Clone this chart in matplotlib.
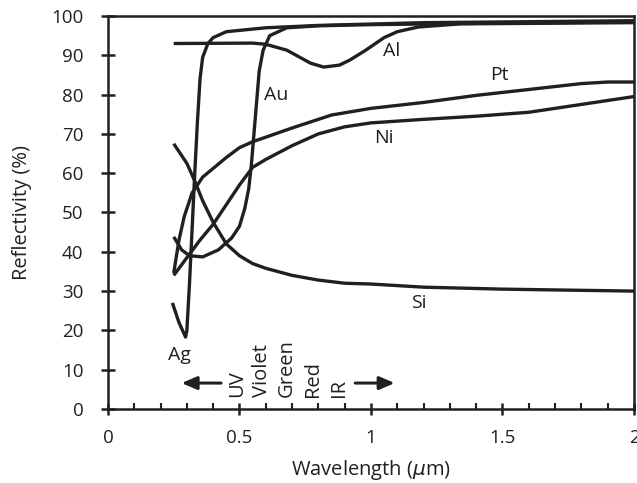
import matplotlib
matplotlib.use("Agg")
import matplotlib.pyplot as plt
from matplotlib.ticker import MultipleLocator

plt.rcParams['font.family'] = ['Open Sans', 'DejaVu Sans']

ag_x = [0.245, 0.27, 0.295, 0.30, 0.31, 0.32, 0.33, 0.34, 0.35, 0.36, 0.38, 0.40, 0.45, 0.6, 0.8, 1.2, 2.0]
ag_y = [27, 22, 18.3, 20, 32, 46, 60, 73, 84, 89.5, 93, 94.5, 96, 97, 97.6, 98.3, 98.8]

au_x = [0.25, 0.28, 0.31, 0.36, 0.42, 0.47, 0.50, 0.52, 0.535, 0.545, 0.555, 0.565, 0.575, 0.59, 0.615, 0.68, 0.8, 1.0, 1.5, 2.0]
au_y = [43.8, 40.5, 39, 38.7, 40.5, 43.5, 46.5, 51, 56, 62, 70, 78, 86, 91.3, 95, 97, 97.5, 97.8, 98.2, 98.5]

al_x = [0.25, 0.55, 0.60, 0.68, 0.77, 0.82, 0.88, 0.92, 0.98, 1.05, 1.10, 1.18, 1.34, 2.0]
al_y = [93, 93.1, 92.8, 91.3, 88, 87, 87.5, 88.8, 91.3, 94.5, 96, 97.2, 98, 98.3]

pt_x = [0.25, 0.27, 0.29, 0.32, 0.36, 0.45, 0.50, 0.55, 0.70, 0.85, 1.0, 1.2, 1.4, 1.6, 1.8, 1.9, 2.0]
pt_y = [34.6, 43, 49, 55, 59, 64, 66.5, 68, 71.5, 74.8, 76.5, 78, 79.8, 81.3, 82.8, 83.2, 83.2]

ni_x = [0.25, 0.30, 0.35, 0.40, 0.45, 0.50, 0.55, 0.60, 0.70, 0.80, 0.90, 1.0, 1.2, 1.4, 1.6, 1.8, 2.0]
ni_y = [34, 38.5, 43, 47, 52, 57, 61.5, 63.5, 67, 70, 71.8, 72.8, 73.7, 74.5, 75.5, 77.5, 79.5]

si_x = [0.25, 0.30, 0.33, 0.36, 0.40, 0.45, 0.50, 0.55, 0.60, 0.70, 0.80, 0.90, 1.0, 1.2, 1.5, 2.0]
si_y = [67.5, 62.5, 58, 53, 47.5, 42, 39, 37, 35.8, 34, 32.8, 32, 31.8, 31, 30.5, 30]

labels = ["Al", "Au", "Pt", "Ni", "Si", "Ag"]
label_x = [1.08, 0.64, 1.49, 1.05, 1.18, 0.27]
label_y = [91, 80, 85, 69, 27, 13.7]

bands = ["UV", "Violet", "Green", "Red", "IR"]
band_x = [0.49, 0.585, 0.68, 0.78, 0.88]

INK = '#231f20'

fig = plt.figure(figsize=(6.37, 4.83), dpi=100)
ax = fig.add_axes([0.1695, 0.1532, 0.8258, 0.8137])

lw = 2.4
for xs, ys in [(ag_x, ag_y), (au_x, au_y), (al_x, al_y), (pt_x, pt_y), (ni_x, ni_y), (si_x, si_y)]:
    ax.plot(xs, ys, color=INK, lw=lw, solid_capstyle='butt', solid_joinstyle='round')

for t, x, y in zip(labels, label_x, label_y):
    ax.text(x, y, t, fontsize=14, ha='center', va='center', color=INK)

for t, x in zip(bands, band_x):
    ax.text(x, 3.0, t, fontsize=14.5, rotation=90, ha='center', va='bottom', color=INK)

astyle = '-|>,head_length=0.65,head_width=0.28'
ax.annotate('', xy=(0.28, 6.6), xytext=(0.43, 6.6),
            arrowprops=dict(arrowstyle=astyle, color=INK, lw=2.2, mutation_scale=14, shrinkA=0, shrinkB=0))
ax.annotate('', xy=(1.09, 6.6), xytext=(0.94, 6.6),
            arrowprops=dict(arrowstyle=astyle, color=INK, lw=2.2, mutation_scale=14, shrinkA=0, shrinkB=0))

ax.set_xlim(0, 2)
ax.set_ylim(0, 100)
ax.xaxis.set_minor_locator(MultipleLocator(0.1))
ax.yaxis.set_major_locator(MultipleLocator(10))
ax.set_xticks([0, 0.5, 1, 1.5, 2])
ax.set_xticklabels(['0', '0.5', '1', '1.5', '2'])
ax.tick_params(axis='x', which='major', direction='inout', length=9, width=1.8, pad=10, labelsize=13.5, colors=INK)
ax.tick_params(axis='x', which='minor', direction='in', length=4.5, width=1.5, colors=INK)
ax.tick_params(axis='y', which='major', direction='inout', length=9.5, width=1.8, pad=13, labelsize=13.5, colors=INK)
for s in ax.spines.values():
    s.set_linewidth(1.8)
    s.set_color(INK)

ax.set_xlabel('Wavelength ($\\mu$m)', fontsize=14.5, labelpad=8, color=INK)
ax.set_ylabel('Reflectivity (%)', fontsize=14.5, labelpad=14, color=INK)

fig.savefig('out.png', dpi=100)
